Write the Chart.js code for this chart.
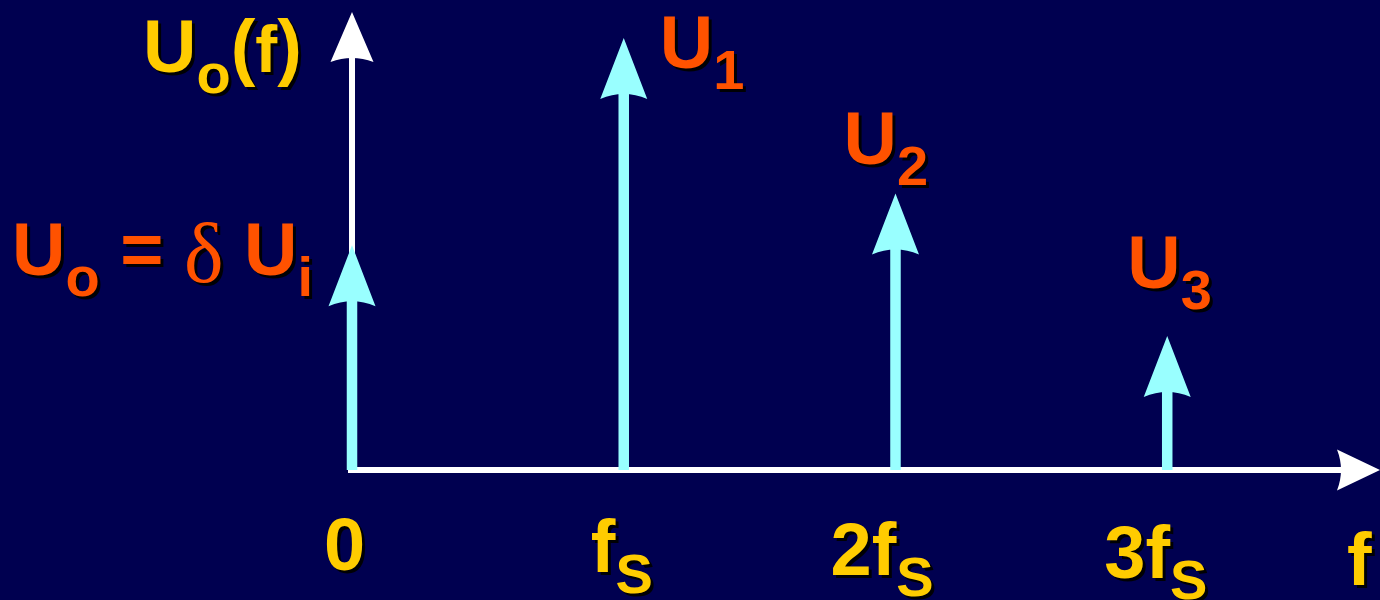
<!DOCTYPE html>
<html>
<head>
<meta charset="utf-8">
<script src="https://cdn.jsdelivr.net/npm/chart.js@4/dist/chart.umd.min.js"></script>
<style>
  html, body { margin: 0; padding: 0; background: #000050; }
  canvas { display: block; }
</style>
</head>
<body>
<canvas id="spectrum" width="1380" height="600"></canvas>
<script>
// harmonic number (multiples of fs) and relative amplitude of each spectral line
const harmonics = [0, 1, 2, 3];
const amplitudes = [0.52, 1.0, 0.64, 0.31];

// text segments: M = main size, S = subscript, f = mid size on the baseline, d = delta glyph
const tickLabels = [
    [['0', 'M']],
    [['f', 'M'], ['S', 'S']],
    [['2f', 'M'], ['S', 'S']],
    [['3f', 'M'], ['S', 'S']],
];
const peakLabels = [
    [['U', 'M'], ['o', 'S'], [' = ', 'M'], ['\u03b4', 'd'], [' U', 'M'], ['i', 'S']],
    [['U', 'M'], ['1', 'S']],
    [['U', 'M'], ['2', 'S']],
    [['U', 'M'], ['3', 'S']],
];
const yTitle = [['U', 'M'], ['o', 'S'], ['(', 'M'], ['f', 'f'], [')', 'M']];
const xTitle = [['f', 'M']];

// layout (pixel offsets from the arrow tips / stems)
const peakOffsets = [[-340, 30], [36, 30], [-52, -29], [-40, -48]];
const tickOffsets = [[-28, 570], [-33, 572], [-65, 575], [-63, 578]];

const BG = '#000050';
const CYAN = '#99ffff';
const YELLOW = '#ffcc00';
const ORANGE = '#ff5200';
const SANS = '"Liberation Sans", Arial, sans-serif';
const SERIF = '"Liberation Serif", "Times New Roman", serif';
// font, baseline shift
const styles = {
    M: ['bold 74px ' + SANS, 0],
    S: ['bold 56px ' + SANS, 21],
    f: ['bold 66px ' + SANS, 0],
    d: ['84px ' + SERIF, 7],
};

function drawRich(ctx, parts, x, y, color) {
    ctx.save();
    ctx.textBaseline = 'alphabetic';
    ctx.textAlign = 'left';
    ctx.fillStyle = color;
    ctx.shadowColor = 'rgba(0,0,0,0.95)';
    ctx.shadowOffsetX = 3;
    ctx.shadowOffsetY = 3;
    ctx.shadowBlur = 0;
    parts.forEach(([t, k]) => {
        const [font, dy] = styles[k];
        ctx.font = font;
        ctx.fillText(t, x, y + dy);
        x += ctx.measureText(t).width;
    });
    ctx.restore();
}

// vertical arrow with a barbed head, tip at (x, tipY)
function upArrow(ctx, x, baseY, tipY, color, lw, hw, hl, notch) {
    ctx.save();
    ctx.fillStyle = color;
    ctx.fillRect(x - lw / 2, tipY + hl - notch - 1, lw, baseY - (tipY + hl - notch - 1));
    ctx.beginPath();
    ctx.moveTo(x, tipY);
    ctx.lineTo(x + hw / 2, tipY + hl);
    ctx.quadraticCurveTo(x, tipY + hl - 2 * notch, x - hw / 2, tipY + hl);
    ctx.closePath();
    ctx.fill();
    ctx.restore();
}

function rightArrow(ctx, y, x0, tipX, color, lw, hw, hl, notch) {
    ctx.save();
    ctx.fillStyle = color;
    ctx.fillRect(x0, y - lw / 2, tipX - hl + notch + 1 - x0, lw);
    ctx.beginPath();
    ctx.moveTo(tipX, y);
    ctx.lineTo(tipX - hl, y + hw / 2);
    ctx.quadraticCurveTo(tipX - hl + 2 * notch, y, tipX - hl, y - hw / 2);
    ctx.closePath();
    ctx.fill();
    ctx.restore();
}

const spectrumPlugin = {
    id: 'spectrum',
    beforeDraw(chart) {
        const c = chart.ctx;
        c.save();
        c.fillStyle = BG;
        c.fillRect(0, 0, chart.width, chart.height);
        c.restore();
    },
    afterDatasetsDraw(chart) {
        const c = chart.ctx;
        const xs = chart.scales.x, ys = chart.scales.y;
        const area = chart.chartArea;
        const x0 = xs.getPixelForValue(0);
        const y0 = ys.getPixelForValue(0);

        // axes
        rightArrow(c, y0, x0 - 4, area.right, '#ffffff', 6, 41, 43, 4);
        upArrow(c, x0, y0, area.top, '#ffffff', 6, 43, 50, 4);

        // spectral lines
        const meta = chart.getDatasetMeta(0);
        meta.data.forEach((pt, i) => {
            upArrow(c, pt.x, y0, pt.y, CYAN, 10.5, 47, 61, 5);
            const [dx, dy] = peakOffsets[i];
            drawRich(c, peakLabels[i], pt.x + dx, pt.y + dy, ORANGE);
            const [tx, ty] = tickOffsets[i];
            drawRich(c, tickLabels[i], pt.x + tx, ty, YELLOW);
        });

        drawRich(c, yTitle, x0 - 209, area.top + 60, YELLOW);
        drawRich(c, xTitle, area.right - 33, 585, YELLOW);
    }
};

new Chart(document.getElementById('spectrum').getContext('2d'), {
    type: 'scatter',
    data: {
        datasets: [{
            data: harmonics.map((h, i) => ({ x: h, y: amplitudes[i] })),
            pointRadius: 0,
            showLine: false,
        }]
    },
    options: {
        responsive: false,
        animation: false,
        events: [],
        layout: { padding: { left: 352, right: 0, top: 12, bottom: 130 } },
        plugins: { legend: { display: false }, tooltip: { enabled: false } },
        scales: {
            x: { type: 'linear', display: false, min: 0, max: 3.783 },
            y: { type: 'linear', display: false, min: 0, max: 1.06 },
        }
    },
    plugins: [spectrumPlugin]
});
</script>
</body>
</html>
